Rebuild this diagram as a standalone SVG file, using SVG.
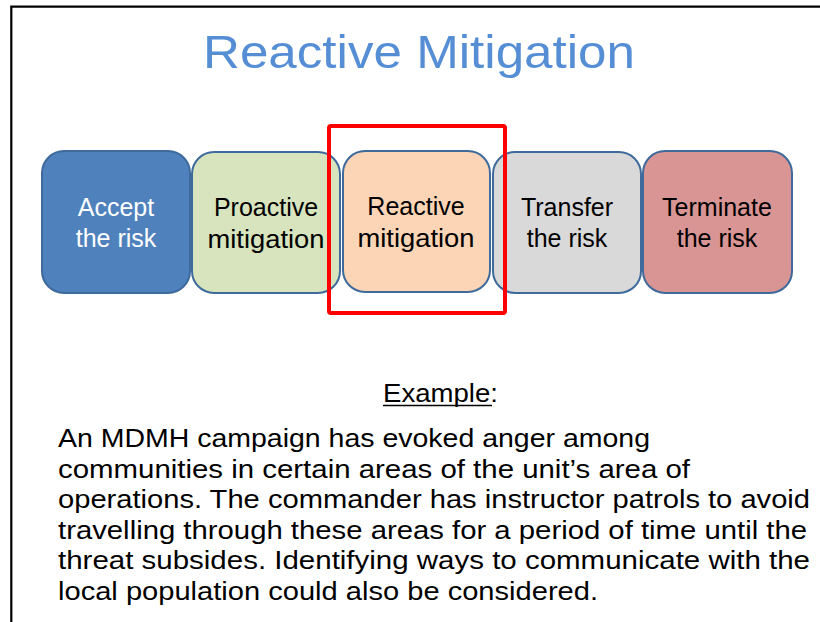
<svg xmlns="http://www.w3.org/2000/svg" width="820" height="622" viewBox="0 0 820 622">
<style>
.box{stroke:#3e6a9c;stroke-width:2}
.bt{font-family:"Liberation Sans",Arial,sans-serif;font-size:25px;text-anchor:middle;fill:#000}
.para{font-family:"Liberation Sans",Arial,sans-serif;font-size:26px;fill:#000}
</style>
<rect width="820" height="622" fill="#fff"/>
<path d="M11.3 622V6.7H820" fill="none" stroke="#000" stroke-width="2.2"/>
<text x="419" y="68" font-family="Liberation Sans,Arial,sans-serif" font-size="47" fill="#558ed5" text-anchor="middle" textLength="432" lengthAdjust="spacingAndGlyphs">Reactive Mitigation</text>
<g id="accept"><rect class="box" x="42" y="151" width="148" height="142" rx="22" fill="#4f81bd"/><text class="bt" x="116" y="216" fill="#fff" style="fill:#fff">Accept</text><text class="bt" x="116" y="247" style="fill:#fff">the risk</text></g>
<g id="proactive"><rect class="box" x="192" y="152" width="148" height="141" rx="22" fill="#d7e4bd"/><text class="bt" x="266" y="216">Proactive</text><text class="bt" x="266" y="248" textLength="117" lengthAdjust="spacingAndGlyphs">mitigation</text></g>
<g id="reactive"><rect class="box" x="343" y="151" width="147" height="141" rx="22" fill="#fbd5b5"/><text class="bt" x="416" y="215">Reactive</text><text class="bt" x="416" y="247" textLength="117" lengthAdjust="spacingAndGlyphs">mitigation</text></g>
<g id="transfer"><rect class="box" x="493" y="152" width="148" height="141" rx="22" fill="#d9d9d9"/><text class="bt" x="567" y="216">Transfer</text><text class="bt" x="567" y="247">the risk</text></g>
<g id="terminate"><rect class="box" x="643" y="151" width="149" height="142" rx="22" fill="#d99594"/><text class="bt" x="717" y="216">Terminate</text><text class="bt" x="717" y="247">the risk</text></g>
<g id="highlight"><rect x="329" y="126" width="176" height="187" rx="2" fill="none" stroke="#ff0000" stroke-width="4"/></g>
<g id="connectors"></g>
<g id="example">
<text class="para" x="383" y="402" textLength="115" lengthAdjust="spacingAndGlyphs">Example:</text>
<line x1="383" y1="405.5" x2="492" y2="405.5" stroke="#000" stroke-width="1.6"/>
<text class="para" x="58" y="447" textLength="592" lengthAdjust="spacingAndGlyphs">An MDMH campaign has evoked anger among</text>
<text class="para" x="58" y="477.6" textLength="632" lengthAdjust="spacingAndGlyphs">communities in certain areas of the unit’s area of</text>
<text class="para" x="58" y="508.2" textLength="752" lengthAdjust="spacingAndGlyphs">operations. The commander has instructor patrols to avoid</text>
<text class="para" x="58" y="538.8" textLength="749" lengthAdjust="spacingAndGlyphs">travelling through these areas for a period of time until the</text>
<text class="para" x="58" y="569.4" textLength="752" lengthAdjust="spacingAndGlyphs">threat subsides. Identifying ways to communicate with the</text>
<text class="para" x="58" y="600" textLength="540" lengthAdjust="spacingAndGlyphs">local population could also be considered.</text>
</g>
</svg>
